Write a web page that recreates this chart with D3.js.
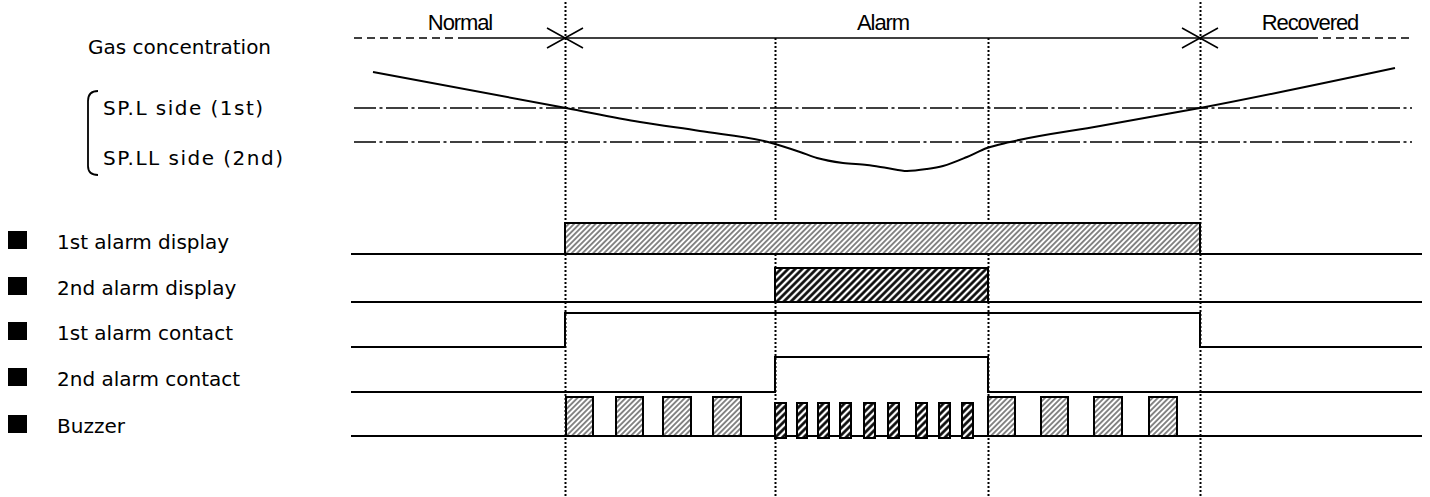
<!DOCTYPE html>
<html>
<head>
<meta charset="utf-8">
<script src="https://d3js.org/d3.v7.min.js"></script>
<style>
body{margin:0;background:#fff;}
svg{display:block;}
.lbl{font-family:"DejaVu Sans",sans-serif;font-size:20px;fill:#000;}
.phase{font-family:"Liberation Sans",Arial,sans-serif;font-size:22px;fill:#000;}
</style>
</head>
<body>
<div id="chart"></div>
<script>
// time axis (arbitrary units), events where the gas crosses the set points
var timeEnd = 1067;
var events = [210, 420, 633, 845];   // below SP.L, below SP.LL, above SP.LL, above SP.L
var phaseNames = ['Normal', 'Alarm', 'Recovered'];
var phaseAt = [105, 528, 955];

// gas concentration curve
var gasTime  = [18, 211, 285, 345, 413, 445, 462, 488, 512, 532, 552, 572, 588, 612, 632, 655, 745, 845, 1040];
var gasLevel = [108, 72, 58, 49, 38, 28, 22, 17, 15, 12, 9, 11, 14, 23, 32, 38, 54, 72, 112];
var setPointNames = ['SP.L side (1st)', 'SP.LL side (2nd)'];
var setPoints = [72, 38];

// output signals
var rowNames = ['1st alarm display', '2nd alarm display', '1st alarm contact', '2nd alarm contact', 'Buzzer'];
var display1 = [[210, 845]];
var display2 = [[420, 633]];
var contact1Time  = [-4, 210, 845, 1067];
var contact1State = [0, 1, 0, 0];
var contact2Time  = [-4, 420, 633, 1067];
var contact2State = [0, 1, 0, 0];
var buzzStart = [211, 261, 308, 358, 420, 442, 463, 485, 509, 533, 561, 584, 607, 633, 686, 739, 794];
var buzzLen   = [27, 27, 28, 28, 11, 10, 11, 11, 11, 11, 11, 11, 11, 27, 27, 28, 28];
var buzzFast  = [0, 0, 0, 0, 1, 1, 1, 1, 1, 1, 1, 1, 1, 0, 0, 0, 0];

var width = 1430, height = 497;
var x, yLevel, svg;

function init() {
    svg = d3.select('#chart').append('svg')
        .attr('width', width)
        .attr('height', height);
    x = d3.scaleLinear().domain([-4, timeEnd]).range([351, 1422]);
    yLevel = d3.scaleLinear().domain([0, 100]).range([180, 80]);
    makePatterns();
    drawGuides();
    drawHeader();
    drawGas();
    drawRows();
}

function makePatterns() {
    var defs = svg.append('defs');
    hatch(defs, 'light', 3.8, 1, '#111');
    hatch(defs, 'dark', 5, 2.6, '#000');
}

function hatch(defs, id, gap, w, col) {
    var p = defs.append('pattern')
        .attr('id', id)
        .attr('patternUnits', 'userSpaceOnUse')
        .attr('width', gap).attr('height', gap)
        .attr('patternTransform', 'rotate(45)');
    p.append('rect').attr('width', gap).attr('height', gap).attr('fill', '#fff');
    p.append('line')
        .attr('x1', gap / 2).attr('y1', -1)
        .attr('x2', gap / 2).attr('y2', gap + 1)
        .attr('stroke', col).attr('stroke-width', w);
}

function drawGuides() {
    // dotted event lines
    svg.append('g').selectAll('line')
        .data(events)
        .enter().append('line')
        .attr('x1', d => Math.round(x(d)) + 0.5)
        .attr('x2', d => Math.round(x(d)) + 0.5)
        .attr('y1', (d, i) => (i == 0 || i == 3) ? 2 : 38)
        .attr('y2', height)
        .attr('stroke', '#000')
        .attr('stroke-width', 2)
        .attr('stroke-dasharray', '2,2');
}

function drawHeader() {
    var g = svg.append('g');
    var yH = 38;
    g.append('line')   // dashed before / after
        .attr('x1', x(-1)).attr('x2', x(phaseAt[0]))
        .attr('y1', yH).attr('y2', yH)
        .attr('stroke', '#000').attr('stroke-width', 1.6)
        .attr('stroke-dasharray', '8,5');
    g.append('line')
        .attr('x1', x(phaseAt[0])).attr('x2', x(phaseAt[2]))
        .attr('y1', yH).attr('y2', yH)
        .attr('stroke', '#000').attr('stroke-width', 1.6);
    g.append('line')
        .attr('x1', x(phaseAt[2])).attr('x2', x(1057))
        .attr('y1', yH).attr('y2', yH)
        .attr('stroke', '#000').attr('stroke-width', 1.6)
        .attr('stroke-dasharray', '8,5');

    // X marks where the alarm starts / ends
    [events[0], events[3]].forEach(function (t) {
        var cx = x(t);
        g.append('path')
            .attr('d', 'M' + (cx - 18) + ',' + (yH - 10) + 'L' + (cx + 18) + ',' + (yH + 10) +
                'M' + (cx - 18) + ',' + (yH + 10) + 'L' + (cx + 18) + ',' + (yH - 10))
            .attr('stroke', '#000').attr('stroke-width', 1.5).attr('fill', 'none');
    });

    g.selectAll('text.phase')
        .data(phaseNames)
        .enter().append('text')
        .attr('class', 'phase')
        .attr('x', (d, i) => x(phaseAt[i]))
        .attr('y', 30)
        .attr('text-anchor', 'middle')
        .style('letter-spacing', '-1.1px')
        .text(d => d);
}

function drawGas() {
    var g = svg.append('g');

    g.append('text').attr('class', 'lbl')
        .attr('x', 88).attr('y', 54)
        .text('Gas concentration');

    g.selectAll('text.sp')
        .data(setPointNames)
        .enter().append('text')
        .attr('class', 'lbl sp')
        .attr('x', 103)
        .attr('y', (d, i) => i == 0 ? 115 : 165)
        .attr('textLength', (d, i) => i == 0 ? 160 : 180)
        .attr('lengthAdjust', 'spacing')
        .text(d => d);

    // bracket
    g.append('path')
        .attr('d', 'M98,91 Q88,91 88,101 L88,166 Q88,175 98,175')
        .attr('fill', 'none').attr('stroke', '#000').attr('stroke-width', 1.8);

    // set point lines
    g.selectAll('line.sp')
        .data(setPoints)
        .enter().append('line')
        .attr('x1', x(-1)).attr('x2', x(1057))
        .attr('y1', d => yLevel(d)).attr('y2', d => yLevel(d))
        .attr('stroke', '#000').attr('stroke-width', 1.6)
        .attr('stroke-dasharray', '22,3.5,3,3.5');

    var pts = gasTime.map((t, i) => [t, gasLevel[i]]);
    var line = d3.line()
        .x(d => x(d[0]))
        .y(d => yLevel(d[1]))
        .curve(d3.curveMonotoneX);
    g.append('path')
        .datum(pts)
        .attr('d', line)
        .attr('fill', 'none')
        .attr('stroke', '#000')
        .attr('stroke-width', 2);
}

function drawRows() {
    var rowBase = [254, 302, 347, 392, 436];
    var rowHigh = [223, 268, 313, 357, 397];
    var sq = [231, 277, 322, 368, 415];
    var g = svg.append('g');

    // row labels
    g.selectAll('rect.key')
        .data(rowNames)
        .enter().append('rect')
        .attr('x', 8).attr('y', (d, i) => sq[i])
        .attr('width', 19).attr('height', 18)
        .attr('fill', '#000');
    g.selectAll('text.row')
        .data(rowNames)
        .enter().append('text')
        .attr('class', 'lbl row')
        .attr('x', 57).attr('y', (d, i) => sq[i] + 18)
        .text(d => d);

    // display rows: baseline + hatched box
    [[display1, 'light'], [display2, 'dark']].forEach(function (r, i) {
        g.append('line')
            .attr('x1', x(-4)).attr('x2', x(timeEnd))
            .attr('y1', rowBase[i]).attr('y2', rowBase[i])
            .attr('stroke', '#000').attr('stroke-width', 2);
        g.selectAll('rect.disp' + i)
            .data(r[0])
            .enter().append('rect')
            .attr('x', d => x(d[0]))
            .attr('y', rowHigh[i])
            .attr('width', d => x(d[1]) - x(d[0]))
            .attr('height', rowBase[i] - rowHigh[i])
            .attr('fill', 'url(#' + r[1] + ')')
            .attr('stroke', '#000').attr('stroke-width', 2);
    });

    // contact rows: step lines
    [[contact1Time, contact1State], [contact2Time, contact2State]].forEach(function (r, k) {
        var i = k + 2;
        var y = d3.scaleLinear().domain([0, 1]).range([rowBase[i], rowHigh[i]]);
        var pts = r[0].map((t, j) => [t, r[1][j]]);
        g.append('path')
            .datum(pts)
            .attr('d', d3.line().x(d => x(d[0])).y(d => y(d[1])).curve(d3.curveStepAfter))
            .attr('fill', 'none').attr('stroke', '#000').attr('stroke-width', 2);
    });

    // buzzer
    g.append('line')
        .attr('x1', x(-4)).attr('x2', x(timeEnd))
        .attr('y1', rowBase[4]).attr('y2', rowBase[4])
        .attr('stroke', '#000').attr('stroke-width', 2);
    g.selectAll('rect.buzz')
        .data(buzzStart)
        .enter().append('rect')
        .attr('x', d => x(d))
        .attr('y', (d, i) => buzzFast[i] ? 403 : rowHigh[4])
        .attr('width', (d, i) => x(d + buzzLen[i]) - x(d))
        .attr('height', (d, i) => buzzFast[i] ? 35 : rowBase[4] - rowHigh[4])
        .attr('fill', (d, i) => buzzFast[i] ? 'url(#dark)' : 'url(#light)')
        .attr('stroke', '#000').attr('stroke-width', 2);
}

window.onload = init;
</script>
</body>
</html>
